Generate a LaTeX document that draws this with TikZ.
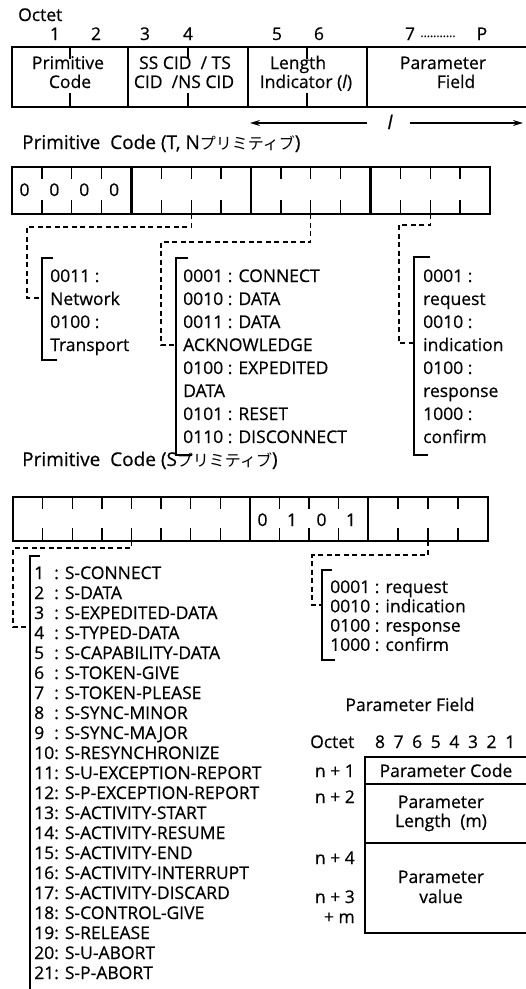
\documentclass[tikz,border=0pt]{standalone}
\usepackage{fontspec}
\setmainfont{Open Sans}[FakeBold=0.5]
\newfontfamily\jpfont{Noto Sans CJK JP}
\usetikzlibrary{arrows.meta}
\begin{document}
\begin{tikzpicture}[x=1pt,y=-1pt,
  box/.style={line width=2.6pt},
  tck/.style={line width=1.3pt},
  brk/.style={line width=1.3pt},
  dsh/.style={line width=1.2pt, dash pattern=on 5pt off 3.5pt},
  txt/.style={inner sep=0pt, font=\fontsize{17.5}{20}\selectfont},
  lst/.style={txt, anchor=base west},
  ctr/.style={txt, anchor=base},
  hd/.style={inner sep=0pt, font=\fontsize{19}{22}\selectfont, anchor=base west},
  arr/.style={line width=1.4pt, -{Stealth[length=10pt,width=6pt]}}]
\useasboundingbox (0,0) rectangle (526,989);

% ---------- header ----------
\node[lst] (oct) at (18,21) {Octet};
\node[ctr] (o1) at (55,40) {1};
\node[ctr] (o2) at (96,40) {2};
\node[ctr] (o3) at (145,40) {3};
\node[ctr] (o4) at (188,40) {4};
\node[ctr] (o5) at (277,40) {5};
\node[ctr] (o6) at (319,40) {6};
\node[ctr] (o7) at (410,40) {7};
\node[inner sep=0pt, anchor=base, font=\fontsize{12}{12}\selectfont] (odots) at (438,37) {...........};
\node[ctr] (oP) at (482,40) {P};

\draw[box] (526,47) -- (12,47) -- (12,107) -- (526,107);
\foreach \x in {128,248,367} \draw[box] (\x,47) -- (\x,107);
\foreach \x in {70,188,307} {\draw[tck] (\x,47) -- (\x,59); \draw[tck] (\x,93) -- (\x,107);}
\node[ctr] (f1a) at (68,69) {Primitive};
\node[ctr] (f1b) at (70,88) {Code};
\node[ctr] (f2a) at (185,69) {SS CID\ \ / TS};
\node[ctr] (f2b) at (184,88) {CID\ \ /NS CID};
\node[ctr] (f3a) at (298,69) {Length};
\node[ctr] (f3b) at (306,88) {Indicator (\textit{l})};
\node[ctr] (f4a) at (443,69) {Parameter};
\node[ctr] (f4b) at (456,88) {Field};

\node[ctr, font=\fontsize{19}{20}\itshape] (ell) at (390,129) {l};
\coordinate (al1) at (367,123); \coordinate (al2) at (250,123);
\coordinate (ar1) at (410,123); \coordinate (ar2) at (523,123);
\draw[arr] (al1) -- (al2);
\draw[arr] (ar1) -- (ar2);

% ---------- T,N primitive code ----------
\node[hd] (h1) at (22,149) {Primitive\ \ Code (T, N{\jpfont\fontsize{16}{16}\selectfont プリミティブ})};
\draw[box] (12,167) rectangle (490,214);
\foreach \x in {131.5,251,370.5} \draw[box] (\x,167) -- (\x,214);
\foreach \k in {1,2,3,5,6,7,9,10,11,13,14,15}
  {\draw[tck] (12+29.875*\k,167) -- (12+29.875*\k,179); \draw[tck] (12+29.875*\k,200) -- (12+29.875*\k,214);}
\foreach \k in {0,...,3} \node[ctr] (tz\k) at (12+29.875*\k+12.5,196) {0};

\coordinate (tA) at (191.25,214); \coordinate (tB) at (310.75,214); \coordinate (tC) at (430.25,214);
% brackets
\coordinate (bA) at (42,298); \coordinate (bB) at (176,345); \coordinate (bC) at (414,343);
\draw[brk] (53,258) -- (42,258) -- (42,360) -- (57,360);
\draw[brk] (188,258) -- (176,258) -- (176,455) -- (192,455);
\draw[brk] (430,257) -- (414,257) -- (414,455) -- (428,455);
\draw[dsh] (tA) -- (191.25,227) -- (27,227) -- (27,298) -- (bA);
\draw[dsh] (tB) -- (310.75,242) -- (161,242) -- (161,345) -- (bB);
\draw[dsh] (tC) -- (430.25,225) -- (399,225) -- (399,343) -- (bC);

\foreach \t [count=\i] in {0011 :, Network, 0100 :, Transport}
  \node[lst] (la\i) at (50,282+23*\i-23) {\t};
\foreach \t [count=\i] in {0001 : CONNECT, 0010 : DATA, 0011 : DATA, ACKNOWLEDGE, 0100 : EXPEDITED, DATA, 0101 : RESET, 0110 : DISCONNECT}
  \node[lst] (lb\i) at (183,282+23*\i-23) {\t};
\foreach \t [count=\i] in {0001 :, request, 0010 :, indication, 0100 :, response, 1000 :, confirm}
  \node[lst] (lc\i) at (423,282+23*\i-23) {\t};

% ---------- S primitive code ----------
\node[hd] (h2) at (22,466) {Primitive\ \ Code (S{\jpfont\fontsize{16}{16}\selectfont プリミティブ})};
\draw[box] (13,497) rectangle (488,541);
\draw[box] (250,497) -- (250,541);
\draw[box] (368,497) -- (368,541);
\foreach \x in {42.6,72.3,101.9,131.5,161.1,190.8,220.4,279.5,309,338.5,398,428,458}
  {\draw[tck] (\x,497) -- (\x,509); \draw[tck] (\x,528) -- (\x,541);}
\foreach \d [count=\k from 0] in {0,1,0,1}
  \node[ctr] (sd\k) at (250+29.5*\k+12.5,526) {\d};

\coordinate (sA) at (131.5,541); \coordinate (sB) at (428,541);
\coordinate (bS1) at (30,627); \coordinate (bS2) at (322,605);
\draw[brk] (40,556) -- (30,556) -- (30,990);
\draw[brk] (332,570) -- (322,570) -- (322,660) -- (335,660);
\draw[dsh] (sA) -- (131.5,548) -- (13,548) -- (13,627) -- (bS1);
\draw[dsh] (sB) -- (428,555) -- (312,555) -- (312,605) -- (bS2);

\foreach \t [count=\i] in {S-CONNECT, S-DATA, S-EXPEDITED-DATA, S-TYPED-DATA, S-CAPABILITY-DATA, S-TOKEN-GIVE, S-TOKEN-PLEASE, S-SYNC-MINOR, S-SYNC-MAJOR, S-RESYNCHRONIZE, S-U-EXCEPTION-REPORT, S-P-EXCEPTION-REPORT, S-ACTIVITY-START, S-ACTIVITY-RESUME, S-ACTIVITY-END, S-ACTIVITY-INTERRUPT, S-ACTIVITY-DISCARD, S-CONTROL-GIVE, S-RELEASE, S-U-ABORT, S-P-ABORT}
  {\node[lst] (sn\i) at (34,579+20*\i-20) {\i};
   \node[lst] (st\i) at (54,579+20*\i-20) {: \t};}

\foreach \t [count=\i] in {0001 : request, 0010 : indication, 0100 : response, 1000 : confirm}
  \node[lst] (sr\i) at (330,593+19.3*\i-19.3) {\t};

% ---------- parameter field ----------
\node[ctr] (pft) at (410,711) {Parameter Field};
\node[lst] (poct) at (310,748) {Octet};
\foreach \d [count=\i from 0] in {8,7,6,5,4,3,2,1}
  \node[ctr] (pb\d) at (380+18.6*\i,748) {\d};
\draw[box] (527,757) -- (365,757) -- (365,933) -- (527,933);
\draw[box] (365,784) -- (527,784);
\draw[box] (365,843) -- (527,843);
\node[ctr] (pc) at (446,777) {Parameter Code};
\node[ctr] (pl1) at (441,808) {Parameter};
\node[ctr] (pl2) at (441,827) {Length\ \ (m)};
\node[ctr] (pv1) at (441,883) {Parameter};
\node[ctr] (pv2) at (441,903) {value};
\node[txt, anchor=base east] (n1) at (355,777) {n + 1};
\node[txt, anchor=base east] (n2) at (355,803) {n + 2};
\node[txt, anchor=base east] (n4) at (355,864) {n + 4};
\node[txt, anchor=base east] (n3) at (355,903) {n + 3};
\node[txt, anchor=base east] (nm) at (355,923) {+ m};
\end{tikzpicture}
\end{document}
